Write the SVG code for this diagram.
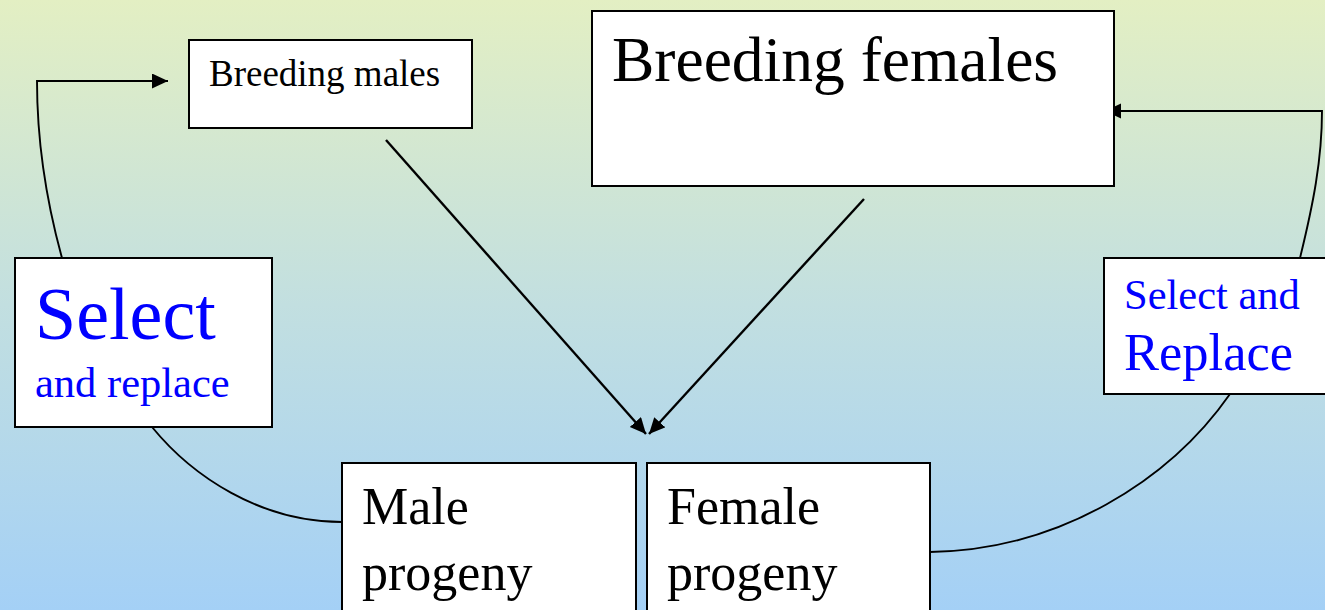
<svg xmlns="http://www.w3.org/2000/svg" width="1325" height="610" viewBox="0 0 1325 610">
<defs>
<linearGradient id="bg" x1="0" y1="0" x2="0" y2="1">
<stop offset="0" stop-color="#E3EFC3"/>
<stop offset="0.5" stop-color="#C2DFE0"/>
<stop offset="1" stop-color="#A4D0F6"/>
</linearGradient>
<marker id="arr" markerUnits="userSpaceOnUse" markerWidth="18" markerHeight="16" refX="16" refY="7.5" orient="auto">
<path d="M0,0 L16,7.5 L0,15 z" fill="#000"/>
</marker>
</defs>
<style>
.box{fill:#fff;stroke:#000;stroke-width:2}
.t{font-family:"Liberation Serif","Times New Roman",serif;fill:#000}
.b{fill:#0000FF}
.c{fill:none;stroke:#000;stroke-width:1.9}
.d{fill:none;stroke:#000;stroke-width:2.4}
</style>
<rect width="1325" height="610" fill="url(#bg)"/>
<g id="connectors">
<path class="c" d="M62,258 C46,200 37,140 37,81 L168,81" marker-end="url(#arr)"/>
<path class="c" d="M1300,258 C1313,205 1322,160 1322,111 L1105,111" marker-end="url(#arr)"/>
<path class="c" d="M342,522 C260,522 192,476 152,427"/>
<path class="c" d="M930,552 C1060,550 1170,480 1230,394"/>
<path class="d" d="M386,140 L646,434" marker-end="url(#arr)"/>
<path class="d" d="M864,199 L649,434" marker-end="url(#arr)"/>
</g>
<g id="breeding-males">
<rect class="box" x="189" y="40" width="283" height="88"/>
<text class="t" x="209" y="86" font-size="37">Breeding males</text>
</g>
<g id="breeding-females">
<rect class="box" x="592" y="11" width="522" height="175"/>
<text class="t" x="612" y="81" font-size="63.5">Breeding females</text>
</g>
<g id="select-left">
<rect class="box" x="15" y="258" width="257" height="169"/>
<text class="t b" x="35" y="339" font-size="74">Select</text>
<text class="t b" x="35" y="397" font-size="42.5">and replace</text>
</g>
<g id="select-right">
<rect class="box" x="1104" y="258" width="230" height="136"/>
<text class="t b" x="1124" y="309" font-size="42.5">Select and</text>
<text class="t b" x="1124" y="370" font-size="52.5">Replace</text>
</g>
<g id="male-progeny">
<rect class="box" x="342" y="463" width="294" height="160"/>
<text class="t" x="362" y="524" font-size="52">Male</text>
<text class="t" x="362" y="590" font-size="52">progeny</text>
</g>
<g id="female-progeny">
<rect class="box" x="647" y="463" width="283" height="160"/>
<text class="t" x="667" y="524" font-size="52">Female</text>
<text class="t" x="667" y="590" font-size="52">progeny</text>
</g>
</svg>
